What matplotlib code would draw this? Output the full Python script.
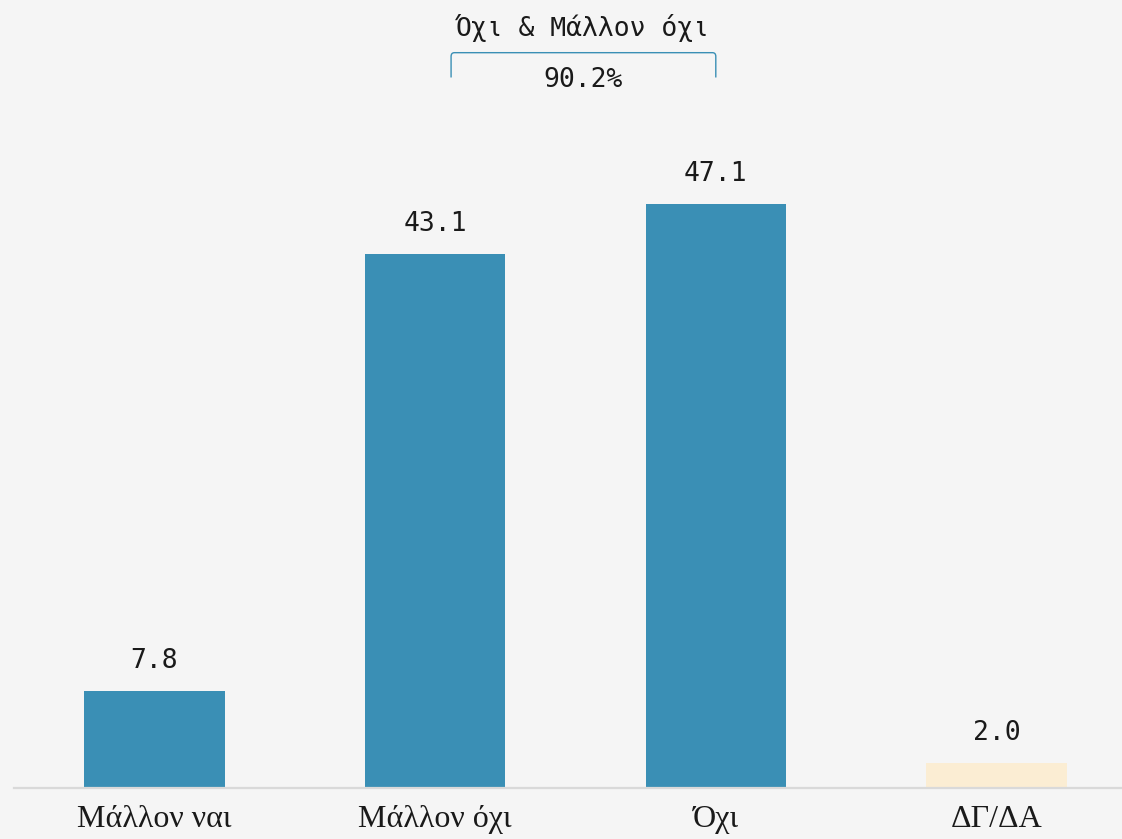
import matplotlib
matplotlib.use("Agg")
import matplotlib.pyplot as plt
from matplotlib.path import Path
from matplotlib.patches import PathPatch

# Δεδομένα
categories = ["Μάλλον ναι", "Μάλλον όχι", "Όχι", "ΔΓ/ΔΑ"]
values = [7.8, 43.1, 47.1, 2.0]
colors = ["#3a8fb5", "#3a8fb5", "#3a8fb5", "#fbedd3"]
group_title = "Όχι & Μάλλον όχι"
group_total = "90.2%"

bg = "#f5f5f5"
mono = ["DejaVu Sans Mono"]
serif = ["Liberation Serif", "DejaVu Serif"]

fig = plt.figure(figsize=(11.22, 8.39), dpi=100, facecolor=bg)
ax = fig.add_axes([14 / 1122, (839 - 788) / 839, 1 - 14 / 1122, 788 / 839])
ax.set_facecolor(bg)

x = list(range(len(categories)))
bars = ax.bar(x, values, width=0.5, color=colors, zorder=2)

ax.set_xlim(-0.5, 3.447)
ax.set_ylim(0, 788 / 12.4)

for rect, v in zip(bars, values):
    ax.annotate(f"{v:.1f}", (rect.get_x() + rect.get_width() / 2, v),
                xytext=(0, 21.5), textcoords="offset points",
                ha="center", va="center", fontsize=19, family=mono, color="#1a1a1a")

ax.set_xticks(x)
ax.set_xticklabels(categories, family=serif, fontsize=23, color="#1a1a1a")
ax.tick_params(axis="x", length=0, pad=12)
ax.set_yticks([])
for s in ["left", "right", "top"]:
    ax.spines[s].set_visible(False)
ax.spines["bottom"].set_color("#d9d9d9")
ax.spines["bottom"].set_linewidth(1.6)

# Αγκύλη για Όχι & Μάλλον όχι
x0, x1 = 1 + 0.057, 2
ytop = max(values) + 12.2
ybot = ytop - 2.0
r = 0.012
verts = [(x0, ybot), (x0, ytop - 0.3), (x0, ytop), (x0 + r, ytop),
         (x1 - r, ytop), (x1, ytop), (x1, ytop - 0.3), (x1, ybot)]
codes = [Path.MOVETO, Path.LINETO, Path.CURVE3, Path.CURVE3,
         Path.LINETO, Path.CURVE3, Path.CURVE3, Path.LINETO]
ax.add_patch(PathPatch(Path(verts, codes), fill=False, edgecolor="#3a8fb5",
                       linewidth=1.0, clip_on=False))
xm = (x0 + x1) / 2
ax.text(xm, ytop + 2.0, group_title, ha="center", va="center",
        fontsize=19, family=mono, color="#1a1a1a")
ax.text(xm, ytop - 2.2, group_total, ha="center", va="center",
        fontsize=19, family=mono, color="#1a1a1a")

fig.savefig("out.png", dpi=100, facecolor=bg)
